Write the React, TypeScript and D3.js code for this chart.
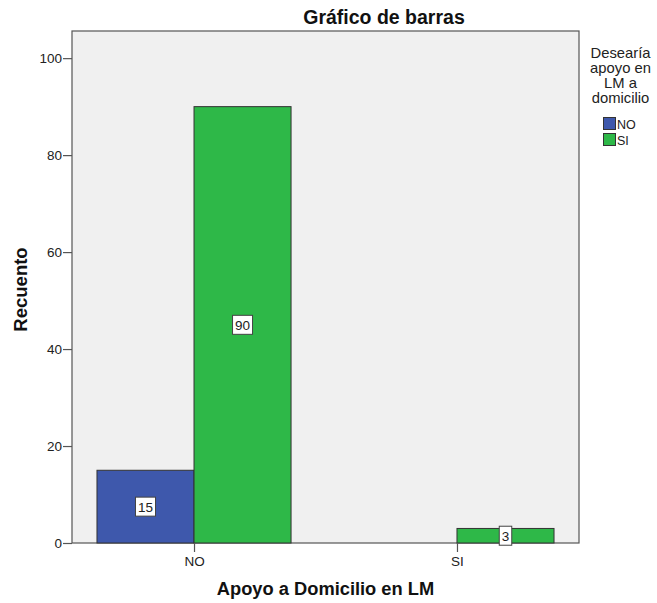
import * as d3 from 'd3'
import React, { useEffect, useRef } from 'react'

const categories = ['NO', 'SI']
const seriesNames = ['NO', 'SI']
const countsNO = [15, 0]
const countsSI = [90, 3]
const yTicks = [0, 20, 40, 60, 80, 100]
const legendTitle = ['Desearía', 'apoyo en', 'LM a', 'domicilio']
const colors = ['#3E58AC', '#2EB848']

const W = 657
const H = 603

const App = () => {
  const ref = useRef<SVGSVGElement>(null)

  useEffect(() => {
    const svg = d3.select(ref.current)
    svg.selectAll('*').remove()

    const plot = { left: 72, right: 579, top: 31, bottom: 543 }
    const font = 'Liberation Sans, Arial, sans-serif'

    const y = d3.scaleLinear().domain([0, 105.6]).range([plot.bottom, plot.top])
    const x = d3.scalePoint<string>().domain(categories).range([plot.left, plot.right]).padding(0.464)
    const step = x.step()
    const barW = step * 0.369
    const inner = d3.scaleBand<string>().domain(seriesNames).range([-barW, barW])

    // plot background
    svg
      .append('rect')
      .attr('x', plot.left)
      .attr('y', plot.top)
      .attr('width', plot.right - plot.left)
      .attr('height', plot.bottom - plot.top)
      .attr('fill', '#F0F0F0')
      .attr('stroke', '#555')
      .attr('stroke-width', 1.2)

    // bars
    const series = [countsNO, countsSI]
    series.forEach((vals, si) => {
      vals.forEach((v, ci) => {
        if (v <= 0) return
        const bx = (x(categories[ci]) as number) + (inner(seriesNames[si]) as number)
        svg
          .append('rect')
          .attr('x', bx)
          .attr('y', y(v))
          .attr('width', inner.bandwidth())
          .attr('height', y(0) - y(v))
          .attr('fill', colors[si])
          .attr('stroke', '#333')
          .attr('stroke-width', 1)
      })
    })

    // value labels
    series.forEach((vals, si) => {
      vals.forEach((v, ci) => {
        if (v <= 0) return
        const cx = (x(categories[ci]) as number) + (inner(seriesNames[si]) as number) + inner.bandwidth() / 2
        const cy = y(v / 2)
        const label = String(v)
        const bw = label.length * 7.5 + 5
        svg
          .append('rect')
          .attr('x', cx - bw / 2)
          .attr('y', cy - 9.5)
          .attr('width', bw)
          .attr('height', 19)
          .attr('fill', '#fff')
          .attr('stroke', '#444')
          .attr('stroke-width', 1)
        svg
          .append('text')
          .attr('x', cx)
          .attr('y', cy + 5)
          .attr('text-anchor', 'middle')
          .attr('font-family', font)
          .attr('font-size', 13.5)
          .attr('fill', '#222')
          .text(label)
      })
    })

    // y axis
    const yAxis = svg.append('g').attr('transform', `translate(${plot.left},0)`)
    yAxis
      .call(d3.axisLeft(y).tickValues(yTicks).tickSize(9).tickPadding(1))
      .call((g) => g.select('.domain').remove())
    yAxis.selectAll('line').attr('stroke', '#555').attr('stroke-width', 1.2)
    yAxis.selectAll('text').attr('font-family', font).attr('font-size', 13.5).attr('fill', '#222')

    // x axis
    const xAxis = svg.append('g').attr('transform', `translate(0,${plot.bottom})`)
    xAxis
      .call(d3.axisBottom(x).tickSize(9).tickPadding(4))
      .call((g) => g.select('.domain').remove())
    xAxis.selectAll('line').attr('stroke', '#555').attr('stroke-width', 1.2)
    xAxis.selectAll('text').attr('font-family', font).attr('font-size', 13.5).attr('fill', '#222')

    // titles
    svg
      .append('text')
      .attr('x', 384)
      .attr('y', 24)
      .attr('text-anchor', 'middle')
      .attr('font-family', font)
      .attr('font-weight', 'bold')
      .attr('font-size', 19.5)
      .attr('fill', '#111')
      .text('Gráfico de barras')

    svg
      .append('text')
      .attr('x', 325.5)
      .attr('y', 595)
      .attr('text-anchor', 'middle')
      .attr('font-family', font)
      .attr('font-weight', 'bold')
      .attr('font-size', 18.3)
      .attr('fill', '#111')
      .text('Apoyo a Domicilio en LM')

    svg
      .append('text')
      .attr('transform', `translate(27,289.5) rotate(-90)`)
      .attr('text-anchor', 'middle')
      .attr('font-family', font)
      .attr('font-weight', 'bold')
      .attr('font-size', 18.5)
      .attr('fill', '#111')
      .text('Recuento')

    // legend
    const lg = svg.append('g')
    legendTitle.forEach((t, i) => {
      lg.append('text')
        .attr('x', 620.5)
        .attr('y', 57.5 + i * 15.3)
        .attr('text-anchor', 'middle')
        .attr('font-family', font)
        .attr('font-size', 14.8)
        .attr('fill', '#222')
        .text(t)
    })
    seriesNames.forEach((s, i) => {
      lg.append('rect')
        .attr('x', 603.5)
        .attr('y', 117.5 + i * 16)
        .attr('width', 12)
        .attr('height', 12)
        .attr('fill', colors[i])
        .attr('stroke', '#333')
      lg.append('text')
        .attr('x', 617)
        .attr('y', 128.5 + i * 16)
        .attr('font-family', font)
        .attr('font-size', 12.5)
        .attr('fill', '#222')
        .text(s)
    })
  }, [])

  return (
    <svg
      ref={ref}
      width={W}
      height={H}
      style={{ position: 'absolute', left: 0, top: 0, background: '#fff' }}
    />
  )
}

export default App
